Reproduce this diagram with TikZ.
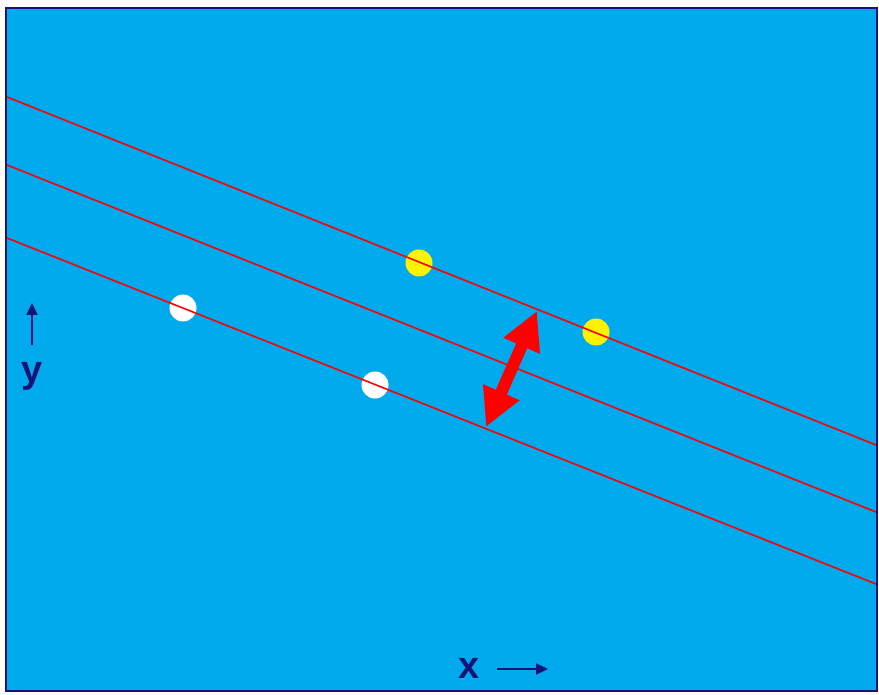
\documentclass[tikz,border=0pt]{standalone}
\usepackage{fontspec}
\setmainfont{Liberation Sans}
\usetikzlibrary{arrows.meta}
\definecolor{sky}{RGB}{0,170,236}
\definecolor{navy}{RGB}{20,20,120}
\tikzset{
  dot/.style={circle,inner sep=0pt,minimum width=26pt,minimum height=27pt},
  hyper/.style={red,line width=1.6pt},
  axlabel/.style={navy,anchor=base,font=\bfseries\fontsize{38}{38}\selectfont}
}
\begin{document}
\begin{tikzpicture}[x=1pt,y=-1pt,>={Stealth[inset=0pt,length=12pt,width=11pt]}]
            \useasboundingbox (0,0) rectangle (879,695);
            \fill[sky] (6,8) rectangle (877,691);
            % data points
            \node[dot,fill=yellow] (p1) at (419,263) {};
            \node[dot,fill=yellow] (p2) at (596,332) {};
            \node[dot,fill=white] (n1) at (183,308) {};
            \node[dot,fill=white] (n2) at (375,385) {};
            % separating lines
            \draw[hyper] (7,97) -- (876,445);
            \draw[hyper] (7,165) -- (876,512);
            \draw[hyper] (7,238) -- (876,584);
            % margin
            \coordinate (m1) at (537,311);
            \coordinate (m2) at (486,427);
            \draw[red,line width=12pt,{Triangle[length=38pt,width=37pt]}-{Triangle[length=38pt,width=37pt]}] (m2) -- (m1);
            % axes
            \node[axlabel] (y) at (32,382) {y};
            \coordinate (ya) at (32,345);
            \coordinate (yb) at (32,303);
            \draw[->,navy,line width=1.8pt] (ya) -- (yb);
            \node[axlabel] (x) at (469,678) {x};
            \coordinate (xa) at (497,669);
            \coordinate (xb) at (548,669);
            \draw[->,navy,line width=1.8pt] (xa) -- (xb);
            \draw[navy,line width=2pt] (6,8) rectangle (877,691);
        \end{tikzpicture}
\end{document}
